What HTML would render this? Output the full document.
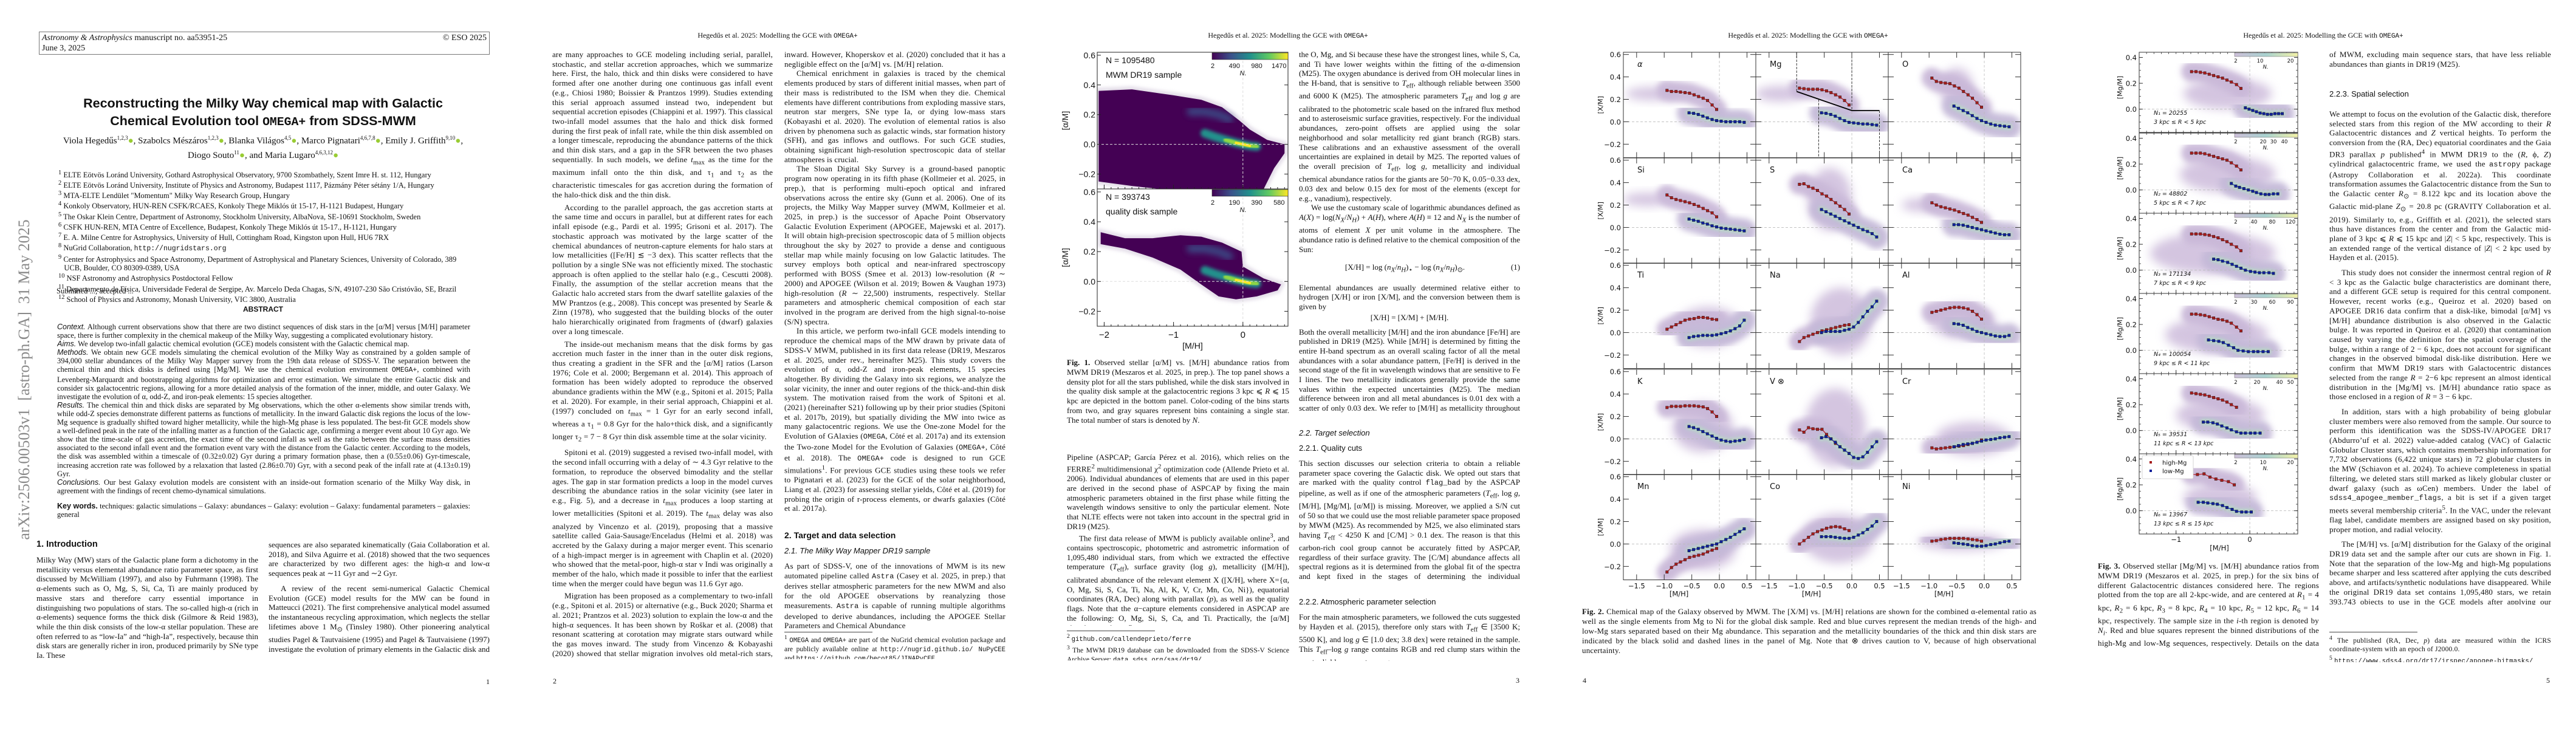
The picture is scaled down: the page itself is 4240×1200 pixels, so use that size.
<!DOCTYPE html>
<html><head><meta charset="utf-8">
<style>
html,body{margin:0;padding:0;background:#fff;}
#root{position:relative;width:4240px;height:1200px;overflow:hidden;background:#fff;font-family:"Liberation Serif",serif;color:#111;}
.col{position:absolute;font-size:13px;line-height:15.7px;text-align:justify;overflow:hidden;hyphens:auto;}
.col p{margin:0;text-indent:0;}
.col p.i{text-indent:20px;}
.hdr{position:absolute;font-size:12px;width:848px;text-align:center;}
.mono{font-family:"Liberation Mono",monospace;font-size:0.92em;}
.pn{position:absolute;font-size:12px;}
.sans{font-family:"Liberation Sans",sans-serif;}
.sh{position:absolute;font-family:"Liberation Sans",sans-serif;}
#figs{position:absolute;left:0;top:0;}
</style></head>
<body>
<div id="root">

<!-- PAGE 1 -->
<div style="position:absolute;left:64px;top:52px;width:740px;height:36px;border:1px solid #777;font-size:14px;line-height:17px;">
 <div style="position:absolute;left:4px;top:1px;"><i>Astronomy &amp; Astrophysics</i> manuscript no. aa53951-25<br>June 3, 2025</div>
 <div style="position:absolute;right:4px;top:1px;">© ESO 2025</div>
</div>
<div class="sans" style="position:absolute;left:60px;width:746px;top:156px;text-align:center;font-size:21.5px;line-height:28.5px;font-weight:bold;">Reconstructing the Milky Way chemical map with Galactic<br>Chemical Evolution tool <span class="mono">OMEGA+</span> from SDSS-MWM</div>
<div style="position:absolute;left:60px;width:746px;top:218px;text-align:center;font-size:15px;line-height:19px;">Viola Hegedűs<sup style="font-size:9px">1,2,3</sup><span style="color:#9c3">●</span>, Szabolcs Mészáros<sup style="font-size:9px">1,2,3</sup><span style="color:#9c3">●</span>, Blanka Világos<sup style="font-size:9px">4,5</sup><span style="color:#9c3">●</span>, Marco Pignatari<sup style="font-size:9px">4,6,7,8</sup><span style="color:#9c3">●</span>, Emily J. Griffith<sup style="font-size:9px">9,10</sup><span style="color:#9c3">●</span>,<br>Diogo Souto<sup style="font-size:9px">11</sup><span style="color:#9c3">●</span>, and Maria Lugaro<sup style="font-size:9px">4,6,3,12</sup><span style="color:#9c3">●</span></div>
<div style="position:absolute;left:96px;width:700px;top:278px;font-size:12.5px;line-height:14px;">
<sup>1</sup> ELTE Eötvös Loránd University, Gothard Astrophysical Observatory, 9700 Szombathely, Szent Imre H. st. 112, Hungary<br>
<sup>2</sup> ELTE Eötvös Loránd University, Institute of Physics and Astronomy, Budapest 1117, Pázmány Péter sétány 1/A, Hungary<br>
<sup>3</sup> MTA-ELTE Lendület "Momentum" Milky Way Research Group, Hungary<br>
<sup>4</sup> Konkoly Observatory, HUN-REN CSFK/RCAES, Konkoly Thege Miklós út 15-17, H-1121 Budapest, Hungary<br>
<sup>5</sup> The Oskar Klein Centre, Department of Astronomy, Stockholm University, AlbaNova, SE-10691 Stockholm, Sweden<br>
<sup>6</sup> CSFK HUN-REN, MTA Centre of Excellence, Budapest, Konkoly Thege Miklós út 15-17., H-1121, Hungary<br>
<sup>7</sup> E. A. Milne Centre for Astrophysics, University of Hull, Cottingham Road, Kingston upon Hull, HU6 7RX<br>
<sup>8</sup> NuGrid Collaboration, <span class="mono">http://nugridstars.org</span><br>
<sup>9</sup> Center for Astrophysics and Space Astronomy, Department of Astrophysical and Planetary Sciences, University of Colorado, 389<br>&nbsp;&nbsp;&nbsp;UCB, Boulder, CO 80309-0389, USA<br>
<sup>10</sup> NSF Astronomy and Astrophysics Postdoctoral Fellow<br>
<sup>11</sup> Departamento de Física, Universidade Federal de Sergipe, Av. Marcelo Deda Chagas, S/N, 49107-230 São Cristóvão, SE, Brazil<br>
<sup>12</sup> School of Physics and Astronomy, Monash University, VIC 3800, Australia</div>
<div style="position:absolute;left:93px;top:472px;font-size:12.5px;">Submitted ...; accepted ...</div>
<div class="sans" style="position:absolute;left:60px;width:746px;top:502px;text-align:center;font-size:12px;font-weight:bold;">ABSTRACT</div>
<div class="col" style="left:94px;width:680px;top:531px;height:290px;font-size:12.5px;line-height:14.1px;">
<p><i class="sans">Context.</i> Although current observations show that there are two distinct sequences of disk stars in the [α/M] versus [M/H] parameter space, there is further complexity in the chemical makeup of the Milky Way, suggesting a complicated evolutionary history.</p>
<p><i class="sans">Aims.</i> We develop two-infall galactic chemical evolution (GCE) models consistent with the Galactic chemical map.</p>
<p><i class="sans">Methods.</i> We obtain new GCE models simulating the chemical evolution of the Milky Way as constrained by a golden sample of 394,000 stellar abundances of the Milky Way Mapper survey from the 19th data release of SDSS-V. The separation between the chemical thin and thick disks is defined using [Mg/M]. We use the chemical evolution environment <span class="mono">OMEGA+</span>, combined with Levenberg-Marquardt and bootstrapping algorithms for optimization and error estimation. We simulate the entire Galactic disk and consider six galactocentric regions, allowing for a more detailed analysis of the formation of the inner, middle, and outer Galaxy. We investigate the evolution of α, odd-Z, and iron-peak elements: 15 species altogether.</p>
<p><i class="sans">Results.</i> The chemical thin and thick disks are separated by Mg observations, which the other α-elements show similar trends with, while odd-Z species demonstrate different patterns as functions of metallicity. In the inward Galactic disk regions the locus of the low-Mg sequence is gradually shifted toward higher metallicity, while the high-Mg phase is less populated. The best-fit GCE models show a well-defined peak in the rate of the infalling matter as a function of the Galactic age, confirming a merger event about 10 Gyr ago. We show that the time-scale of gas accretion, the exact time of the second infall as well as the ratio between the surface mass densities associated to the second infall event and the formation event vary with the distance from the Galactic center. According to the models, the disk was assembled within a timescale of (0.32±0.02) Gyr during a primary formation phase, then a (0.55±0.06) Gyr-timescale, increasing accretion rate was followed by a relaxation that lasted (2.86±0.70) Gyr, with a second peak of the infall rate at (4.13±0.19) Gyr.</p>
<p><i class="sans">Conclusions.</i> Our best Galaxy evolution models are consistent with an inside-out formation scenario of the Milky Way disk, in agreement with the findings of recent chemo-dynamical simulations.</p>
</div>
<div class="col" style="left:94px;width:680px;top:826px;height:30px;font-size:12.5px;line-height:14.1px;"><b class="sans">Key words.</b> techniques: galactic simulations – Galaxy: abundances – Galaxy: evolution – Galaxy: fundamental parameters – galaxies: general</div>
<div class="sh" style="left:60px;top:888px;font-size:14.5px;font-weight:bold;">1. Introduction</div>
<div class="col" style="left:60px;width:365px;top:914px;height:175px;">
<p>Milky Way (MW) stars of the Galactic plane form a dichotomy in the metallicity versus elemental abundance ratio parameter space, as first discussed by McWilliam (1997), and also by Fuhrmann (1998). The α-elements such as O, Mg, S, Si, Ca, Ti are mainly produced by massive stars and therefore carry essential importance in distinguishing two populations of stars. The so-called high-α (rich in α-elements) sequence forms the thick disk (Gilmore &amp; Reid 1983), while the thin disk consists of the low-α stellar population. These are often referred to as “low-Ia” and “high-Ia”, respectively, because thin disk stars are generally richer in iron, produced primarily by SNe type Ia. These</p></div>
<div class="col" style="left:442px;width:364px;top:889px;height:190px;">
<p>sequences are also separated kinematically (Gaia Collaboration et al. 2018), and Silva Aguirre et al. (2018) showed that the two sequences are characterized by two different ages: the high-α and low-α sequences peak at ∼11 Gyr and ∼2 Gyr.</p>
<p class="i" style="margin-top:9px">A review of the recent semi-numerical Galactic Chemical Evolution (GCE) model results for the MW can be found in Matteucci (2021). The first comprehensive analytical model assumed the instantaneous recycling approximation, which neglects the stellar lifetimes above 1 M<sub>⊙</sub> (Tinsley 1980). Other pioneering analytical studies Pagel &amp; Tautvaisiene (1995) and Pagel &amp; Tautvaisiene (1997) investigate the evolution of primary elements in the Galactic disk and in the solar neighborhood. There</p></div>
<div class="pn" style="left:800px;top:1115px;">1</div>
<div style="position:absolute;left:40px;top:625px;width:580px;height:30px;margin-left:-290px;margin-top:-15px;transform:rotate(-90deg);font-size:26px;line-height:30px;color:#8a8a8a;text-align:center;white-space:nowrap;">arXiv:2506.00503v1 &nbsp;[astro-ph.GA] &nbsp;31 May 2025</div>

<!-- PAGE 2 -->
<div class="hdr" style="left:856px;top:51px;">Hegedűs et al. 2025: Modelling the GCE with <span class="mono">OMEGA+</span></div>
<div class="col" style="left:909px;width:363px;top:82px;height:1003px;letter-spacing:0.15px;">
<p>are many approaches to GCE modeling including serial, parallel, stochastic, and stellar accretion approaches, which we summarize here. First, the halo, thick and thin disks were considered to have formed after one another during one continuous gas infall event (e.g., Chiosi 1980; Boissier &amp; Prantzos 1999). Studies extending this serial approach assumed instead two, independent but sequential accretion episodes (Chiappini et al. 1997). This classical two-infall model assumes that the halo and thick disk formed during the first peak of infall rate, while the thin disk assembled on a longer timescale, reproducing the abundance patterns of the thick and thin disk stars, and a gap in the SFR between the two phases sequentially. In such models, we define <i>t</i><sub>max</sub> as the time for the maximum infall onto the thin disk, and τ<sub>1</sub> and τ<sub>2</sub> as the characteristic timescales for gas accretion during the formation of the halo-thick disk and the thin disk.</p>
<p class="i" style="margin-top:5px">According to the parallel approach, the gas accretion starts at the same time and occurs in parallel, but at different rates for each infall episode (e.g., Pardi et al. 1995; Grisoni et al. 2017). The stochastic approach was motivated by the large scatter of the chemical abundances of neutron-capture elements for halo stars at low metallicities ([Fe/H] ≲ −3 dex). This scatter reflects that the pollution by a single SNe was not efficiently mixed. The stochastic approach is often applied to the stellar halo (e.g., Cescutti 2008). Finally, the assumption of the stellar accretion means that the Galactic halo accreted stars from the dwarf satellite galaxies of the MW Prantzos (e.g., 2008). This concept was presented by Searle &amp; Zinn (1978), who suggested that the building blocks of the outer halo hierarchically originated from fragments of (dwarf) galaxies over a long timescale.</p>
<p class="i" style="margin-top:5px">The inside-out mechanism means that the disk forms by gas accretion much faster in the inner than in the outer disk regions, thus creating a gradient in the SFR and the [α/M] ratios (Larson 1976; Cole et al. 2000; Bergemann et al. 2014). This approach of formation has been widely adopted to reproduce the observed abundance gradients within the MW (e.g., Spitoni et al. 2015; Palla et al. 2020). For example, in their serial approach, Chiappini et al. (1997) concluded on <i>t</i><sub>max</sub> = 1 Gyr for an early second infall, whereas a τ<sub>1</sub> = 0.8 Gyr for the halo+thick disk, and a significantly longer τ<sub>2</sub> = 7 − 8 Gyr thin disk assemble time at the solar vicinity.</p>
<p class="i" style="margin-top:5px">Spitoni et al. (2019) suggested a revised two-infall model, with the second infall occurring with a delay of ∼ 4.3 Gyr relative to the formation, to reproduce the observed bimodality and the stellar ages. The gap in star formation predicts a loop in the model curves describing the abundance ratios in the solar vicinity (see later in e.g., Fig. 5), and a decrease in <i>t</i><sub>max</sub> produces a loop starting at lower metallicities (Spitoni et al. 2019). The <i>t</i><sub>max</sub> delay was also analyzed by Vincenzo et al. (2019), proposing that a massive satellite called Gaia-Sausage/Enceladus (Helmi et al. 2018) was accreted by the Galaxy during a major merger event. This scenario of a high-impact merger is in agreement with Chaplin et al. (2020) who showed that the metal-poor, high-α star ν Indi was originally a member of the halo, which made it possible to infer that the earliest time when the merger could have begun was 11.6 Gyr ago.</p>
<p class="i" style="margin-top:5px">Migration has been proposed as a complementary to two-infall (e.g., Spitoni et al. 2015) or alternative (e.g., Buck 2020; Sharma et al. 2021; Prantzos et al. 2023) solution to explain the low-α and the high-α sequences. It has been shown by Roškar et al. (2008) that resonant scattering at corotation may migrate stars outward while the gas moves inward. The study from Vincenzo &amp; Kobayashi (2020) showed that stellar migration involves old metal-rich stars, and occurs more outward than</p></div>
<div class="col" style="left:1291px;width:364px;top:82px;height:770px;letter-spacing:0.15px;">
<p>inward. However, Khoperskov et al. (2020) concluded that it has a negligible effect on the [α/M] vs. [M/H] relation.</p>
<p class="i">Chemical enrichment in galaxies is traced by the chemical elements produced by stars of different initial masses, when part of their mass is redistributed to the ISM when they die. Chemical elements have different contributions from exploding massive stars, neutron star mergers, SNe type Ia, or dying low-mass stars (Kobayashi et al. 2020). The evolution of elemental ratios is also driven by phenomena such as galactic winds, star formation history (SFH), and gas inflows and outflows. For such GCE studies, obtaining significant high-resolution spectroscopic data of stellar atmospheres is crucial.</p>
<p class="i">The Sloan Digital Sky Survey is a ground-based panoptic program now operating in its fifth phase (Kollmeier et al. 2025, in prep.), that is performing multi-epoch optical and infrared observations across the entire sky (Gunn et al. 2006). One of its projects, the Milky Way Mapper survey (MWM, Kollmeier et al. 2025, in prep.) is the successor of Apache Point Observatory Galactic Evolution Experiment (APOGEE, Majewski et al. 2017). It will obtain high-precision spectroscopic data of 5 million objects throughout the sky by 2027 to provide a dense and contiguous stellar map while mainly focusing on low Galactic latitudes. The survey employs both optical and near-infrared spectroscopy performed with BOSS (Smee et al. 2013) low-resolution (<i>R</i> ∼ 2000) and APOGEE (Wilson et al. 2019; Bowen &amp; Vaughan 1973) high-resolution (<i>R</i> ∼ 22,500) instruments, respectively. Stellar parameters and atmospheric chemical composition of each star involved in the program are derived from the high signal-to-noise (S/N) spectra.</p>
<p class="i">In this article, we perform two-infall GCE models intending to reproduce the chemical maps of the MW drawn by private data of SDSS-V MWM, published in its first data release (DR19, Meszaros et al. 2025, under rev., hereinafter M25). This study covers the evolution of α, odd-Z and iron-peak elements, 15 species altogether. By dividing the Galaxy into six regions, we analyze the solar vicinity, the inner and outer regions of the thick-and-thin disk system. The motivation raised from the work of Spitoni et al. (2021) (hereinafter S21) following up by their prior studies (Spitoni et al. 2017b, 2019), but spatially dividing the MW into twice as many galactocentric regions. We use the One-zone Model for the Evolution of GAlaxies (<span class="mono">OMEGA</span>, Côté et al. 2017a) and its extension the Two-zone Model for the Evolution of Galaxies (<span class="mono">OMEGA+</span>, Côté et al. 2018). The <span class="mono">OMEGA+</span> code is designed to run GCE simulations<sup>1</sup>. For previous GCE studies using these tools we refer to Pignatari et al. (2023) for the GCE of the solar neighborhood, Liang et al. (2023) for assessing stellar yields, Côté et al. (2019) for probing the origin of r-process elements, or dwarfs galaxies (Côté et al. 2017a).</p></div>
<div class="sh" style="left:1291px;top:873px;font-size:14px;font-weight:bold;">2. Target and data selection</div>
<div class="sh" style="left:1291px;top:899px;font-size:13px;font-style:italic;">2.1. The Milky Way Mapper DR19 sample</div>
<div class="col" style="left:1291px;width:364px;top:924px;height:110px;letter-spacing:0.15px;">
<p>As part of SDSS-V, one of the innovations of MWM is its new automated pipeline called <span class="mono">Astra</span> (Casey et al. 2025, in prep.) that derives stellar atmospheric parameters for the new MWM and also for the old APOGEE observations by reanalyzing those measurements. <span class="mono">Astra</span> is capable of running multiple algorithms developed to derive abundances, including the APOGEE Stellar Parameters and Chemical Abundance</p></div>
<div style="position:absolute;left:1291px;top:1040px;width:145px;border-top:1px solid #444;"></div>
<div class="col" style="left:1291px;width:364px;top:1043px;height:42px;font-size:11.5px;line-height:14px;"><sup>1</sup> <span class="mono">OMEGA</span> and <span class="mono">OMEGA+</span> are part of the NuGrid chemical evolution package and are publicly available online at <span class="mono">http://nugrid.github.io/ NuPyCEE</span> and <span class="mono">https://github.com/becot85/JINAPyCEE</span>.</div>
<div class="pn" style="left:910px;top:1114px;">2</div>

<!-- PAGE 3 -->
<div class="hdr" style="left:1696px;top:51px;">Hegedűs et al. 2025: Modelling the GCE with <span class="mono">OMEGA+</span></div>
<div class="col" style="left:1756px;width:366px;top:589px;height:125px;line-height:15.8px;">
<p><b>Fig. 1.</b> Observed stellar [α/M] vs. [M/H] abundance ratios from MWM DR19 (Meszaros et al. 2025, in prep.). The top panel shows a density plot for all the stars published, while the disk stars involved in the quality disk sample at the galactocentric regions 3 kpc ⩽ <i>R</i> ⩽ 15 kpc are depicted in the bottom panel. Color-coding of the bins starts from two, and gray squares represent bins containing a single star. The total number of stars is denoted by <i>N</i>.</p></div>
<div class="col" style="left:1756px;width:366px;top:745px;height:285px;line-height:15.8px;">
<p>Pipeline (ASPCAP; García Pérez et al. 2016), which relies on the FERRE<sup>2</sup> multidimensional χ<sup>2</sup> optimization code (Allende Prieto et al. 2006). Individual abundances of elements that are used in this paper are derived in the second phase of ASPCAP by fixing the main atmospheric parameters obtained in the first phase while fitting the wavelength windows sensitive to only the particular element. Note that NLTE effects were not taken into account in the spectral grid in DR19 (M25).</p>
<p class="i">The first data release of MWM is publicly available online<sup>3</sup>, and contains spectroscopic, photometric and astrometric information of 1,095,480 individual stars, from which we extracted the effective temperature (<i>T</i><sub>eff</sub>), surface gravity (log <i>g</i>), metallicity ([M/H]), calibrated abundance of the relevant element X ([X/H], where X={α, O, Mg, Si, S, Ca, Ti, Na, Al, K, V, Cr, Mn, Co, Ni}), equatorial coordinates (RA, Dec) along with parallax (<i>p</i>), as well as the quality flags. Note that the α−capture elements considered in ASPCAP are the following: O, Mg, Si, S, Ca, and Ti. Practically, the [α/M] abundance value reflects</p></div>
<div style="position:absolute;left:1756px;top:1038px;width:145px;border-top:1px solid #444;"></div>
<div class="col" style="left:1756px;width:366px;top:1041px;height:46px;font-size:11.5px;line-height:14.5px;"><sup>2</sup> <span class="mono">github.com/callendeprieto/ferre</span><br><sup>3</sup> The MWM DR19 database can be downloaded from the SDSS-V Science Archive Server: <span class="mono">data.sdss.org/sas/dr19/</span>.</div>
<div class="col" style="left:2138px;width:364px;top:82px;height:597px;">
<p>the O, Mg, and Si because these have the strongest lines, while S, Ca, and Ti have lower weights within the fitting of the α-dimension (M25). The oxygen abundance is derived from OH molecular lines in the H-band, that is sensitive to <i>T</i><sub>eff</sub>, although reliable between 3500 and 6000 K (M25). The atmospheric parameters <i>T</i><sub>eff</sub> and log <i>g</i> are calibrated to the photometric scale based on the infrared flux method and to asteroseismic surface gravities, respectively. For the individual abundances, zero-point offsets are applied using the solar neighborhood and solar metallicity red giant branch (RGB) stars. These calibrations and an exhaustive assessment of the overall uncertainties are explained in detail by M25. The reported values of the overall precision of <i>T</i><sub>eff</sub>, log <i>g</i>, metallicity and individual chemical abundance ratios for the giants are 50−70 K, 0.05−0.33 dex, 0.03 dex and below 0.15 dex for most of the elements (except for e.g., vanadium), respectively.</p>
<p class="i">We use the customary scale of logarithmic abundances defined as <i>A</i>(<i>X</i>) = log(<i>N<sub>X</sub></i>/<i>N<sub>H</sub></i>) + <i>A</i>(<i>H</i>), where <i>A</i>(<i>H</i>) ≡ 12 and <i>N<sub>X</sub></i> is the number of atoms of element <i>X</i> per unit volume in the atmosphere. The abundance ratio is defined relative to the chemical composition of the Sun:</p>
<p style="text-align:center;margin:14px 0 12px 0;">[X/H] = log (<i>n<sub>X</sub></i>/<i>n<sub>H</sub></i>)<sub>⋆</sub> − log (<i>n<sub>X</sub></i>/<i>n<sub>H</sub></i>)<sub>⊙</sub>. <span style="float:right">(1)</span></p>
<p>Elemental abundances are usually determined relative either to hydrogen [X/H] or iron [X/M], and the conversion between them is given by</p>
<p style="text-align:center;margin:2px 0 8px 0;">[X/H] = [X/M] + [M/H].</p>
<p>Both the overall metallicity [M/H] and the iron abundance [Fe/H] are published in DR19 (M25). While [M/H] is determined by fitting the entire H-band spectrum as an overall scaling factor of all the metal abundances with a solar abundance pattern, [Fe/H] is derived in the second stage of the fit in wavelength windows that are sensitive to Fe I lines. The two metallicity indicators generally provide the same values within the expected uncertainties (M25). The median difference between iron and all metal abundances is 0.01 dex with a scatter of only 0.03 dex. We refer to [M/H] as metallicity throughout this study.</p></div>
<div class="sh" style="left:2138px;top:705px;font-size:13px;font-style:italic;">2.2. Target selection</div>
<div class="sh" style="left:2138px;top:730px;font-size:13px;">2.2.1. Quality cuts</div>
<div class="col" style="left:2138px;width:364px;top:755px;height:205px;">
<p>This section discusses our selection criteria to obtain a reliable parameter space covering the Galactic disk. We opted out stars that are marked with the quality control <span class="mono">flag_bad</span> by the ASPCAP pipeline, as well as if one of the atmospheric parameters (<i>T</i><sub>eff</sub>, log <i>g</i>, [M/H], [Mg/M], [α/M]) is missing. Moreover, we applied a S/N cut of 50 so that we could use the most reliable parameter space proposed by MWM (M25). As recommended by M25, we also eliminated stars having <i>T</i><sub>eff</sub> &lt; 4250 K and [C/M] &gt; 0.1 dex. The reason is that this carbon-rich cool group cannot be accurately fitted by ASPCAP, regardless of their surface gravity. The [C/M] abundance affects all spectral regions as it is determined from the global fit of the spectra and kept fixed in the stages of determining the individual abundances.</p></div>
<div class="sh" style="left:2138px;top:983px;font-size:13px;">2.2.2. Atmospheric parameter selection</div>
<div class="col" style="left:2138px;width:364px;top:1008px;height:80px;">
<p>For the main atmospheric parameters, we followed the cuts suggested by Hayden et al. (2015), therefore only stars with <i>T</i><sub>eff</sub> ∈ [3500 K; 5500 K], and log <i>g</i> ∈ [1.0 dex; 3.8 dex] were retained in the sample. This <i>T</i><sub>eff</sub>–log <i>g</i> range contains RGB and red clump stars within the most reliable parameter range</p></div>
<div class="pn" style="left:2495px;top:1113px;">3</div>

<!-- PAGE 4 -->
<div class="hdr" style="left:2552px;top:51px;">Hegedűs et al. 2025: Modelling the GCE with <span class="mono">OMEGA+</span></div>
<div class="col" style="left:2604px;width:748px;top:999px;height:82px;line-height:16px;letter-spacing:0.2px;">
<p><b>Fig. 2.</b> Chemical map of the Galaxy observed by MWM. The [X/M] vs. [M/H] relations are shown for the combined α-elemental ratio as well as the single elements from Mg to Ni for the global disk sample. Red and blue curves represent the median trends of the high- and low-Mg stars separated based on their Mg abundance. This separation and the metallicity boundaries of the thick and thin disk stars are indicated by the black solid and dashed lines in the panel of Mg. Note that ⊗ drives caution to V, because of high observational uncertainty.</p></div>
<div class="pn" style="left:2605px;top:1113px;">4</div>

<!-- PAGE 5 -->
<div class="hdr" style="left:3400px;top:51px;">Hegedűs et al. 2025: Modelling the GCE with <span class="mono">OMEGA+</span></div>
<div class="col" style="left:3453px;width:364px;top:924px;height:145px;line-height:15.8px;letter-spacing:0.2px;">
<p><b>Fig. 3.</b> Observed stellar [Mg/M] vs. [M/H] abundance ratios from MWM DR19 (Meszaros et al. 2025, in prep.) for the six bins of different Galactocentric distances considered here. The regions plotted from the top are all 2-kpc-wide, and are centered at <i>R</i><sub>1</sub> = 4 kpc, <i>R</i><sub>2</sub> = 6 kpc, <i>R</i><sub>3</sub> = 8 kpc, <i>R</i><sub>4</sub> = 10 kpc, <i>R</i><sub>5</sub> = 12 kpc, <i>R</i><sub>6</sub> = 14 kpc, respectively. The sample size in the <i>i</i>-th region is denoted by <i>N<sub>i</sub></i>. Red and blue squares represent the binned distributions of the high-Mg and low-Mg sequences, respectively. Details on the data selection are reported in the text.</p></div>
<div class="col" style="left:3834px;width:365px;top:82px;height:34px;letter-spacing:0.2px;">
<p>of MWM, excluding main sequence stars, that have less reliable abundances than giants in DR19 (M25).</p></div>
<div class="sh" style="left:3834px;top:147px;font-size:13px;">2.2.3. Spatial selection</div>
<div class="col" style="left:3834px;width:365px;top:180px;height:815px;letter-spacing:0.2px;">
<p>We attempt to focus on the evolution of the Galactic disk, therefore selected stars from this region of the MW according to their <i>R</i> Galactocentric distances and <i>Z</i> vertical heights. To perform the conversion from the (RA, Dec) equatorial coordinates and the Gaia DR3 parallax <i>p</i> published<sup>4</sup> in MWM DR19 to the (<i>R</i>, ϕ, <i>Z</i>) cylindrical galactocentric frame, we used the <span class="mono">astropy</span> package (Astropy Collaboration et al. 2022a). This coordinate transformation assumes the Galactocentric distance from the Sun to the Galactic center <i>R</i><sub>⊙</sub> = 8.122 kpc and its location above the Galactic mid-plane <i>Z</i><sub>⊙</sub> = 20.8 pc (GRAVITY Collaboration et al. 2019). Similarly to, e.g., Griffith et al. (2021), the selected stars thus have distances from the center and from the Galactic mid-plane of 3 kpc ⩽ <i>R</i> ⩽ 15 kpc and |<i>Z</i>| &lt; 5 kpc, respectively. This is an extended range of the vertical distance of |<i>Z</i>| &lt; 2 kpc used by Hayden et al. (2015).</p>
<p class="i" style="margin-top:9px">This study does not consider the innermost central region of <i>R</i> &lt; 3 kpc as the Galactic bulge characteristics are dominant there, and a different GCE setup is required for this central component. However, recent works (e.g., Queiroz et al. 2020) based on APOGEE DR16 data confirm that a disk-like, bimodal [α/M] vs [M/H] abundance distribution is also observed in the Galactic bulge. It was reported in Queiroz et al. (2020) that contamination caused by varying the definition for the spatial coverage of the bulge, within a range of 2 − 6 kpc, does not account for significant changes in the observed bimodal disk-like distribution. Here we confirm that MWM DR19 stars with Galactocentric distances selected from the range <i>R</i> = 2−6 kpc represent an almost identical distribution in the [Mg/M] vs. [M/H] abundance ratio space as those enclosed in a region of <i>R</i> = 3 − 6 kpc.</p>
<p class="i" style="margin-top:9px">In addition, stars with a high probability of being globular cluster members were also removed from the sample. Our source to perform this identification was the SDSS-IV/APOGEE DR17 (Abdurro’uf et al. 2022) value-added catalog (VAC) of Galactic Globular Cluster stars, which contains membership information for 7,732 observations (6,422 unique stars) in 72 globular clusters in the MW (Schiavon et al. 2024). To achieve completeness in spatial filtering, we deleted stars still marked as likely globular cluster or dwarf galaxy (such as ωCen) members. Under the label of <span class="mono">sdss4_apogee_member_flags</span>, a bit is set if a given target meets several membership criteria<sup>5</sup>. In the VAC, under the relevant flag label, candidate members are assigned based on sky position, proper motion, and radial velocity.</p>
<p class="i" style="margin-top:9px">The [M/H] vs. [α/M] distribution for the Galaxy of the original DR19 data set and the sample after our cuts are shown in Fig. 1. Note that the separation of the low-Mg and high-Mg populations became sharper and less scattered after applying the cuts described above, and artifacts/synthetic nodulations have disappeared. While the original DR19 data set contains 1,095,480 stars, we retain 393,743 objects to use in the GCE models after applying our selection.</p></div>
<div style="position:absolute;left:3834px;top:1040px;width:145px;border-top:1px solid #444;"></div>
<div class="col" style="left:3834px;width:365px;top:1044px;height:46px;font-size:11.5px;line-height:14.5px;letter-spacing:0.2px;"><sup>4</sup> The published (RA, Dec, <i>p</i>) data are measured within the ICRS coordinate-system with an epoch of J2000.0.<br><sup>5</sup> <span class="mono">https://www.sdss4.org/dr17/irspec/apogee-bitmasks/</span></div>
<div class="pn" style="left:4191px;top:1113px;">5</div>

<svg id="figs" width="4240" height="1200" viewBox="0 0 4240 1200" xmlns="http://www.w3.org/2000/svg">
 <defs>
  <filter id="blur8" x="-50%" y="-50%" width="200%" height="200%"><feGaussianBlur stdDeviation="8"/></filter>
  <filter id="blur5" x="-50%" y="-50%" width="200%" height="200%"><feGaussianBlur stdDeviation="5"/></filter>
  <filter id="blur3" x="-50%" y="-50%" width="200%" height="200%"><feGaussianBlur stdDeviation="3"/></filter>
  <filter id="blur1" x="-20%" y="-20%" width="140%" height="140%"><feGaussianBlur stdDeviation="1.2"/></filter>
  <linearGradient id="viridis" x1="0" x2="1" y1="0" y2="0">
   <stop offset="0" stop-color="#440154"/><stop offset="0.25" stop-color="#3b528b"/><stop offset="0.5" stop-color="#21918c"/><stop offset="0.75" stop-color="#5ec962"/><stop offset="1" stop-color="#fde725"/>
  </linearGradient>
  <linearGradient id="viridisPale" x1="0" x2="1" y1="0" y2="0">
   <stop offset="0" stop-color="#cdbfd9"/><stop offset="0.5" stop-color="#a9d3d0"/><stop offset="1" stop-color="#f3f2a8"/>
  </linearGradient>
 </defs>
</svg>
</div>

<script>
// ================= FIG 1 DATA =================
const fig1XTicks=[-2,-1,0];
const fig1XTickLabels=['−2','−1','0'];
const fig1YTicks=[0.6,0.4,0.2,0.0,-0.2];
const fig1YTickLabels=['0.6','0.4','0.2','0.0','−0.2'];
const fig1TopOutlineX=[-2.08,-1.6,-1.0,-0.6,-0.3,-0.05,0.1,0.35,0.6,0.6,0.45,0.3,-0.6,-1.2,-1.6,-2.08];
const fig1TopOutlineY=[0.36,0.37,0.33,0.30,0.25,0.16,0.10,0.03,0.0,-0.06,-0.16,-0.30,-0.30,-0.30,-0.28,-0.25];
const fig1BotOutlineX=[-2.05,-1.7,-1.3,-0.9,-0.6,-0.3,-0.02,0.0,0.3,0.55,0.5,0.2,-0.1,-0.35,-0.6,-0.9,-1.3,-1.7,-2.05];
const fig1BotOutlineY=[0.33,0.29,0.29,0.31,0.30,0.26,0.20,0.10,0.02,-0.02,-0.06,-0.10,-0.12,-0.10,-0.02,0.08,0.16,0.22,0.25];
const fig1BandX=[-0.55,-0.4,-0.25,-0.1,0.0,0.1,0.2];
const fig1BandY=[0.075,0.05,0.03,0.01,0.0,-0.01,-0.015];
const fig1BlobX=[-0.75,-0.55,-0.35,-0.2];
const fig1BlobY=[0.22,0.22,0.2,0.17];
const fig1TopCbarLabels=['2','490','980','1470'];
const fig1BotCbarLabels=['2','190','390','580'];

// ================= FIG 2 DATA =================
const fig2Elements=['α','Mg','O','Si','S','Ca','Ti','Na','Al','K','V ⊗','Cr','Mn','Co','Ni'];
const fig2RedX=[-0.95,-0.868,-0.786,-0.705,-0.623,-0.541,-0.459,-0.377,-0.295,-0.214,-0.132,-0.05];
const fig2BlueX=[-0.55,-0.467,-0.383,-0.30,-0.217,-0.133,-0.05,0.033,0.117,0.20,0.283,0.367,0.45];
const redAlpha=[0.28,0.27,0.27,0.265,0.26,0.255,0.24,0.225,0.21,0.19,0.15,0.11];
const blueAlpha=[0.08,0.075,0.065,0.05,0.035,0.02,0.01,0.005,0.0,0.0,0.0,0.0,-0.005];
const redMg=[0.30,0.295,0.29,0.29,0.29,0.285,0.275,0.26,0.24,0.22,0.19,0.15];
const blueMg=[0.08,0.075,0.065,0.05,0.03,0.01,-0.005,-0.01,-0.015,-0.02,-0.02,-0.025,-0.03];
const redO=[0.39,0.36,0.35,0.345,0.34,0.32,0.30,0.27,0.24,0.21,0.17,0.13];
const blueO=[0.14,0.12,0.10,0.08,0.055,0.03,0.01,-0.005,-0.02,-0.03,-0.035,-0.04,-0.045];
const redSi=[0.29,0.265,0.25,0.24,0.23,0.22,0.205,0.19,0.17,0.15,0.13,0.095];
const blueSi=[0.075,0.065,0.055,0.04,0.03,0.015,0.005,-0.005,-0.01,-0.015,-0.02,-0.025,-0.03];
const redS=[0.385,0.39,0.365,0.35,0.33,0.30,0.28,0.25,0.22,0.19,0.16,0.12];
const blueS=[0.16,0.14,0.12,0.10,0.08,0.06,0.04,0.02,0.0,-0.02,-0.035,-0.055,-0.085];
const redCa=[0.22,0.20,0.185,0.175,0.165,0.155,0.14,0.125,0.11,0.09,0.07,0.045];
const blueCa=[0.025,0.025,0.02,0.01,0.0,-0.01,-0.02,-0.03,-0.04,-0.05,-0.06,-0.065,-0.065];
const redTi=[0.03,0.05,0.07,0.09,0.11,0.12,0.125,0.135,0.135,0.13,0.12,0.115];
const blueTi=[-0.045,-0.035,-0.03,-0.025,-0.025,-0.025,-0.02,-0.01,0.0,0.015,0.035,0.06,0.11];
const redNa=[-0.08,-0.045,-0.03,-0.015,0.0,0.015,0.025,0.035,0.045,0.055,0.065,0.07];
const blueNa=[0.0,0.01,0.01,0.01,0.01,0.02,0.03,0.05,0.09,0.14,0.19,0.23,0.28];
const redAl=[0.18,0.19,0.20,0.21,0.22,0.225,0.225,0.22,0.21,0.19,0.16,0.12];
const blueAl=[0.08,0.075,0.065,0.045,0.03,0.01,0.0,-0.01,-0.02,-0.03,-0.035,-0.035,-0.025];
const redK=[0.28,0.29,0.29,0.29,0.295,0.295,0.295,0.29,0.285,0.27,0.24,0.20];
const blueK=[0.11,0.10,0.085,0.065,0.045,0.025,0.005,-0.01,-0.02,-0.025,-0.02,-0.015,-0.005];
const redV=[0.08,0.06,0.10,0.09,0.085,0.085,0.04,0.0,-0.04,-0.07,-0.10,-0.13];
const blueV=[0.01,0.02,0.0,-0.03,-0.07,-0.10,-0.13,-0.165,-0.175,-0.16,-0.12,-0.07,-0.025];
const redCr=[-0.08,-0.09,-0.085,-0.08,-0.075,-0.07,-0.065,-0.06,-0.05,-0.04,-0.03,-0.01];
const blueCr=[-0.07,-0.06,-0.05,-0.045,-0.04,-0.03,-0.02,-0.01,-0.005,0.0,0.01,0.015,0.02];
const redMn=[-0.25,-0.21,-0.18,-0.16,-0.14,-0.12,-0.11,-0.10,-0.09,-0.07,-0.055,-0.04];
const blueMn=[-0.06,-0.05,-0.04,-0.03,-0.02,-0.01,0.0,0.02,0.04,0.06,0.085,0.11,0.135];
const redCo=[0.0,0.03,0.06,0.09,0.11,0.125,0.14,0.15,0.155,0.15,0.135,0.12];
const blueCo=[0.065,0.065,0.065,0.06,0.055,0.05,0.05,0.06,0.08,0.10,0.13,0.16,0.20];
const redNi=[0.025,0.03,0.04,0.045,0.05,0.05,0.05,0.05,0.045,0.04,0.035,0.025];
const blueNi=[0.01,0.005,0.0,-0.005,-0.015,-0.02,-0.02,-0.015,-0.005,0.0,0.01,0.02,0.025];
const fig2HazeCx=[-1.2,-1.3,-0.5,-1.3,-0.4,-1.1,-0.2,-0.2,-0.4,-0.3,-0.3,-0.2,-0.3,-0.25,-0.4];
const fig2HazeCy=[0.25,0.25,0.30,0.25,0.25,0.20,0.05,0.10,0.10,0.10,0.10,0.0,-0.05,0.05,0.02];
const fig2HazeRx=[0.5,0.45,0.3,0.45,0.4,0.4,0.6,0.55,0.6,0.55,0.55,0.7,0.6,0.65,0.8];
const fig2HazeRy=[0.06,0.07,0.18,0.06,0.28,0.06,0.18,0.30,0.15,0.22,0.35,0.15,0.18,0.22,0.08];
const fig2XTicks=[-1.5,-1.0,-0.5,0.0,0.5];
const fig2XTickLabels=['−1.5','−1.0','−0.5','0.0','0.5'];
const fig2YTicks=[0.6,0.4,0.2,0.0,-0.2];
const fig2YTickLabels=['0.6','0.4','0.2','0.0','−0.2'];
const fig2MgSepX=[-1.0,0.0,0.5];
const fig2MgSepY=[0.27,0.10,0.10];

// ================= FIG 3 DATA =================
const fig3RedX1=[-0.79,-0.73,-0.67,-0.61,-0.55,-0.49,-0.43,-0.37,-0.31,-0.25,-0.18,-0.12];
const fig3RedX5=[-0.79,-0.73,-0.67,-0.61,-0.55,-0.49,-0.43,-0.37,-0.31,-0.25,-0.18];
const fig3RedX6=[-0.79,-0.71,-0.62,-0.54,-0.46,-0.38,-0.29,-0.21];
const fig3Red1=[0.29,0.29,0.285,0.28,0.27,0.26,0.25,0.24,0.225,0.21,0.19,0.16];
const fig3Red2=[0.285,0.285,0.285,0.28,0.27,0.26,0.25,0.24,0.23,0.21,0.185,0.155];
const fig3Red3=[0.28,0.28,0.28,0.275,0.27,0.26,0.25,0.235,0.22,0.20,0.18,0.15];
const fig3Red4=[0.28,0.28,0.275,0.27,0.26,0.25,0.24,0.235,0.225,0.21,0.18,0.15];
const fig3Red5=[0.29,0.285,0.28,0.275,0.265,0.255,0.245,0.235,0.22,0.20,0.18];
const fig3Red6=[0.28,0.28,0.285,0.26,0.245,0.235,0.225,0.20];
const fig3BlueX1=[-0.06,-0.01,0.04,0.09,0.14,0.19,0.24,0.29,0.34,0.39,0.44];
const fig3BlueX2=[-0.25,-0.19,-0.14,-0.08,-0.02,0.04,0.09,0.15,0.21,0.26,0.32,0.38];
const fig3BlueX3=[-0.49,-0.43,-0.37,-0.30,-0.24,-0.18,-0.12,-0.06,0.01,0.07,0.13,0.19,0.26,0.32];
const fig3BlueX4=[-0.56,-0.49,-0.42,-0.36,-0.29,-0.22,-0.16,-0.09,-0.02,0.05,0.11,0.18,0.25];
const fig3BlueX5=[-0.63,-0.57,-0.50,-0.44,-0.38,-0.31,-0.25,-0.18,-0.12,-0.06,0.01,0.07,0.14];
const fig3BlueX6=[-0.70,-0.63,-0.57,-0.50,-0.44,-0.37,-0.31,-0.24,-0.18,-0.11,-0.05,0.02];
const fig3Blue1=[0.01,0.0,-0.01,-0.02,-0.03,-0.035,-0.04,-0.04,-0.035,-0.035,-0.035];
const fig3Blue2=[0.05,0.03,0.02,0.01,0.0,-0.01,-0.02,-0.03,-0.035,-0.035,-0.03,-0.03];
const fig3Blue3=[0.085,0.08,0.07,0.06,0.045,0.03,0.015,0.0,-0.01,-0.015,-0.02,-0.02,-0.02,-0.025];
const fig3Blue4=[0.08,0.075,0.07,0.06,0.04,0.02,0.0,-0.005,-0.01,-0.01,-0.01,-0.01,-0.01];
const fig3Blue5=[0.065,0.065,0.06,0.05,0.035,0.02,0.005,-0.01,-0.02,-0.02,-0.02,-0.02,-0.02];
const fig3Blue6=[0.065,0.065,0.06,0.055,0.05,0.04,0.025,0.01,-0.005,-0.01,-0.01,-0.01];
const fig3HazeCx=[-0.3,-0.3,-0.5,-0.45,-0.4,-0.4];
const fig3HazeCy=[0.12,0.12,0.13,0.12,0.12,0.10];
const fig3HazeRx=[0.6,0.65,0.85,0.7,0.6,0.5];
const fig3HazeRy=[0.12,0.14,0.16,0.14,0.13,0.11];
const fig3NLabels=['N₁ = 20255','N₂ = 48802','N₃ = 171134','N₄ = 100054','N₅ = 39531','N₆ = 13967'];
const fig3RLabels=['3 kpc ≤ R < 5 kpc','5 kpc ≤ R < 7 kpc','7 kpc ≤ R < 9 kpc','9 kpc ≤ R < 11 kpc','11 kpc ≤ R < 13 kpc','13 kpc ≤ R ≤ 15 kpc'];
const fig3CbarLabels=[['2','10','20'],['2','20','30','40'],['2','40','80','120'],['2','30','60','90'],['2','20','40','50'],['2','10','20']];
const fig3CbarPos=[[0,0.4,0.9],[0,0.45,0.62,0.8],[0,0.3,0.6,0.9],[0,0.3,0.6,0.9],[0,0.35,0.72,0.9],[0,0.45,0.9]];
const fig3XTicks=[-1,0];
const fig3XTickLabels=['−1','0'];
const fig3YTicks=[0.4,0.2,0.0];
const fig3YTickLabels=['0.4','0.2','0.0'];

// ================= DRAWING =================
const NS='http://www.w3.org/2000/svg';
const svg=document.getElementById('figs');
function mk(tag,parent,attrs){const e=document.createElementNS(NS,tag);for(const k in attrs)e.setAttribute(k,attrs[k]);parent.appendChild(e);return e;}
function linScale(d0,d1,r0,r1){return v=>r0+(v-d0)/(d1-d0)*(r1-r0);}
function pts(xs,ys,sx,sy){return xs.map((x,i)=>sx(x).toFixed(1)+','+sy(ys[i]).toFixed(1)).join(' ');}
let clipId=0;

// ---------- FIG 1 ----------
(function(){
 const left=1806,right=2120;
 const sx=linScale(-2.1,0.65,left,right);
 const panels=[{top:86,bot:311,ox:fig1TopOutlineX,oy:fig1TopOutlineY,n:'N = 1095480',lab:'MWM DR19 sample',cb:fig1TopCbarLabels,name:'fig1-top-panel'},
               {top:311,bot:537,ox:fig1BotOutlineX,oy:fig1BotOutlineY,n:'N = 393743',lab:'quality disk sample',cb:fig1BotCbarLabels,name:'fig1-bottom-panel'}];
 panels.forEach((p,pi)=>{
  const sy=linScale(-0.30,0.62,p.bot,p.top);
  const g=mk('g',svg,{});
  
  
  clipId++;
  const cp=mk('clipPath',svg,{id:'c'+clipId});
  mk('rect',cp,{x:left,y:p.top,width:right-left,height:p.bot-p.top});
  const inner=mk('g',g,{'clip-path':'url(#c'+clipId+')'});
  const halo=mk('polygon',inner,{points:pts(p.ox,p.oy,sx,sy),fill:'#b9a7c7',stroke:'#c9bdd3','stroke-width':10,opacity:0.5,filter:'url(#blur3)'});
  
  
  const poly=mk('polygon',inner,{points:pts(p.ox,p.oy,sx,sy),fill:'#440154'});
  
  
  const blob=mk('polyline',inner,{points:pts(fig1BlobX,fig1BlobY,sx,sy),fill:'none',stroke:'#3b528b','stroke-width':14,'stroke-linecap':'round',opacity:0.8,filter:'url(#blur5)'});
  
  
  const band=mk('polyline',inner,{points:pts(fig1BandX,fig1BandY,sx,sy),fill:'none',stroke:'#21918c','stroke-width':14,'stroke-linecap':'round',filter:'url(#blur3)'});
  
  
  const band2=mk('polyline',inner,{points:pts(fig1BandX.slice(2),fig1BandY.slice(2),sx,sy),fill:'none',stroke:'#8fd744','stroke-width':7,'stroke-linecap':'round',filter:'url(#blur1)'});
  
  
  const band3=mk('polyline',inner,{points:pts(fig1BandX.slice(3,6),fig1BandY.slice(3,6),sx,sy),fill:'none',stroke:'#fde725','stroke-width':4,'stroke-linecap':'round'});
  
  
  const hl=mk('line',inner,{x1:left,x2:right,y1:sy(0),y2:sy(0),stroke:'#ddd','stroke-width':1,'stroke-dasharray':'4,3'});
  
  
  const vl=mk('line',inner,{x1:sx(0),x2:sx(0),y1:p.top,y2:p.bot,stroke:'#ddd','stroke-width':1,'stroke-dasharray':'4,3'});
  
  
  const frame=mk('rect',g,{x:left,y:p.top,width:right-left,height:p.bot-p.top,fill:'none',stroke:'#222','stroke-width':1});
  
  
  fig1YTicks.forEach((t,i)=>{
   const y=sy(t);
   const tk=mk('line',g,{x1:left,x2:left+6,y1:y,y2:y,stroke:'#222'});
   
   
   const tk2=mk('line',g,{x1:right-6,x2:right,y1:y,y2:y,stroke:'#222'});
   
   
   const tl=mk('text',g,{x:left-3,y:y+5,'text-anchor':'end','font-family':'Liberation Sans, sans-serif','font-size':14,fill:'#111'});
   tl.textContent=fig1YTickLabels[i];
   
   
  });
  for(let v=-2.0;v<=0.61;v+=0.1){
   const x=sx(v);
   const mt=mk('line',g,{x1:x,x2:x,y1:p.bot-3,y2:p.bot,stroke:'#222'});
   
   
  }
  fig1XTicks.forEach(t=>{
   const tk=mk('line',g,{x1:sx(t),x2:sx(t),y1:p.bot-7,y2:p.bot,stroke:'#222'});
   
   
  });
  const yl=mk('text',g,{x:1758,y:(p.top+p.bot)/2,'text-anchor':'middle','font-family':'Liberation Sans, sans-serif','font-size':14,fill:'#111',transform:'rotate(-90 1758 '+((p.top+p.bot)/2)+')'});
  yl.textContent='[α/M]';
  
  
  const nt=mk('text',g,{x:left+14,y:p.top+18,'font-family':'Liberation Sans, sans-serif','font-size':14,fill:'#111'});
  nt.textContent=p.n;
  
  
  const lt=mk('text',g,{x:left+14,y:p.top+42,'font-family':'Liberation Sans, sans-serif','font-size':14,fill:'#111'});
  lt.textContent=p.lab;
  
  
  const cb=mk('rect',g,{x:1995,y:p.top+1,width:125,height:11,fill:'url(#viridis)',stroke:'#222','stroke-width':0.6});
  
  
  p.cb.forEach((l,i)=>{
   const x=1995+i*(125/3.4)+ (i?0:1);
   const ct=mk('text',g,{x:x,y:p.top+26,'text-anchor':'middle','font-family':'Liberation Sans, sans-serif','font-size':11,fill:'#111'});
   ct.textContent=l;
   
   
  });
  const cn=mk('text',g,{x:2046,y:p.top+38,'text-anchor':'middle','font-family':'Liberation Sans, sans-serif','font-size':11,'font-style':'italic',fill:'#111'});
  cn.textContent='N.';
  
  
 });
 fig1XTicks.forEach((t,i)=>{
  const tl=mk('text',svg,{x:sx(t),y:556,'text-anchor':'middle','font-family':'Liberation Sans, sans-serif','font-size':15,fill:'#111'});
  tl.textContent=fig1XTickLabels[i];
  
  
 });
 const xt=mk('text',svg,{x:1963,y:574,'text-anchor':'middle','font-family':'Liberation Sans, sans-serif','font-size':14,fill:'#111'});
 xt.textContent='[M/H]';
 
 
})();

// ---------- shared panel drawer ----------
function drawCurve(g,xs,ys,sx,sy,color,face,name){
 const ln=mk('polyline',g,{points:pts(xs,ys,sx,sy),fill:'none',stroke:color,'stroke-width':1.3});
 
 
 xs.forEach((x,i)=>{
  const r=mk('rect',g,{x:(sx(x)-2.2).toFixed(1),y:(sy(ys[i])-2.2).toFixed(1),width:4.4,height:4.4,fill:face,stroke:'#222','stroke-width':0.5});
  
  
 });
}
function drawCloud(g,rx,ry,bx,by,hz,sx,sy,sxScale,syScale){
 const h=mk('ellipse',g,{cx:sx(hz[0]),cy:sy(hz[1]),rx:hz[2]*sxScale,ry:hz[3]*syScale,fill:'#cdbcdb',opacity:0.85,filter:'url(#blur8)'});
 
 
 const s1=mk('polyline',g,{points:pts(rx,ry,sx,sy),fill:'none',stroke:'#c9b8d8','stroke-width':34,'stroke-linecap':'round','stroke-linejoin':'round',opacity:0.95,filter:'url(#blur5)'});
 
 
 const s2=mk('polyline',g,{points:pts(bx,by,sx,sy),fill:'none',stroke:'#c4b9d8','stroke-width':40,'stroke-linecap':'round','stroke-linejoin':'round',opacity:0.95,filter:'url(#blur5)'});
 
 
 const s3=mk('polyline',g,{points:pts(bx,by,sx,sy),fill:'none',stroke:'#b3dfc3','stroke-width':10,'stroke-linecap':'round',opacity:0.85,filter:'url(#blur3)'});
 
 
}

// ---------- FIG 2 ----------
(function(){
 const redSeries=[redAlpha,redMg,redO,redSi,redS,redCa,redTi,redNa,redAl,redK,redV,redCr,redMn,redCo,redNi];
 const blueSeries=[blueAlpha,blueMg,blueO,blueSi,blueS,blueCa,blueTi,blueNa,blueAl,blueK,blueV,blueCr,blueMn,blueCo,blueNi];
 const colL=[2672,2890,3108], W=218;
 const rowT=[86,260,433,608,781], H=173.5;
 fig2Elements.forEach((el,k)=>{
  const c=k%3, r=Math.floor(k/3);
  const L=colL[c], T=rowT[r], R=L+W, B=T+H;
  const sx=linScale(-1.74,0.66,L,R), sy=linScale(-0.32,0.62,B,T);
  const g=mk('g',svg,{});
  
  
  clipId++;
  const cp=mk('clipPath',svg,{id:'c'+clipId});
  mk('rect',cp,{x:L,y:T,width:W,height:H});
  const inner=mk('g',g,{'clip-path':'url(#c'+clipId+')'});
  drawCloud(inner,fig2RedX,redSeries[k],fig2BlueX,blueSeries[k],[fig2HazeCx[k],fig2HazeCy[k],fig2HazeRx[k],fig2HazeRy[k]],sx,sy,W/2.4,H/0.94);
  const hl=mk('line',inner,{x1:L,x2:R,y1:sy(0),y2:sy(0),stroke:'#bbb','stroke-width':0.8,'stroke-dasharray':'4,3'});
  
  
  const vl=mk('line',inner,{x1:sx(0),x2:sx(0),y1:T,y2:B,stroke:'#bbb','stroke-width':0.8,'stroke-dasharray':'4,3'});
  
  
  if(el==='Mg'){
   const sep=mk('polyline',inner,{points:pts(fig2MgSepX,fig2MgSepY,sx,sy),fill:'none',stroke:'#000','stroke-width':1.8});
   
   
   [[-1.0,0.62,0.27],[-0.6,0.2,-0.32],[0.0,0.62,0.1],[0.5,0.1,-0.32]].forEach(d=>{
    const dl=mk('line',inner,{x1:sx(d[0]),x2:sx(d[0]),y1:sy(d[1]),y2:sy(d[2]),stroke:'#222','stroke-width':0.9,'stroke-dasharray':'4,2'});
    
    
   });
  }
  drawCurve(inner,fig2RedX,redSeries[k],sx,sy,'#c0202a','#a51c1c','fig2-high-mg');
  drawCurve(inner,fig2BlueX,blueSeries[k],sx,sy,'#1a35c8','#10209a','fig2-low-mg');
  const fr=mk('rect',g,{x:L,y:T,width:W,height:H,fill:'none',stroke:'#333','stroke-width':1});
  
  
  fig2YTicks.forEach((t,i)=>{
   const y=sy(t);
   const a=mk('line',g,{x1:L,x2:L+9,y1:y,y2:y,stroke:'#333'});
   
   
   const b=mk('line',g,{x1:R-9,x2:R,y1:y,y2:y,stroke:'#333'});
   
   
   if(c===0){
    const tl=mk('text',g,{x:L-4,y:y+4.5,'text-anchor':'end','font-family':'DejaVu Sans, sans-serif','font-size':11.5,fill:'#111'});
    tl.textContent=fig2YTickLabels[i];
    
    
   }
  });
  fig2XTicks.forEach((t,i)=>{
   const x=sx(t);
   const a=mk('line',g,{x1:x,x2:x,y1:B-9,y2:B,stroke:'#333'});
   
   
   const b=mk('line',g,{x1:x,x2:x,y1:T,y2:T+9,stroke:'#333'});
   
   
   if(r===4){
    const tl=mk('text',g,{x:x,y:B+14,'text-anchor':'middle','font-family':'DejaVu Sans, sans-serif','font-size':11.5,fill:'#111'});
    tl.textContent=fig2XTickLabels[i];
    
    
   }
  });
  const et=mk('text',g,{x:L+23,y:T+24,'font-family':'DejaVu Sans, sans-serif','font-size':13,fill:'#111','font-style':el==='α'?'italic':'normal'});
  et.textContent=el;
  
  
  if(c===0){
   const yt=mk('text',g,{x:2638,y:T+H/2,'text-anchor':'middle','font-family':'DejaVu Sans, sans-serif','font-size':11,fill:'#111',transform:'rotate(-90 2638 '+(T+H/2)+')'});
   yt.textContent='[X/M]';
   
   
  }
  if(r===4){
   const xt=mk('text',g,{x:L+W*0.42,y:B+27,'text-anchor':'middle','font-family':'DejaVu Sans, sans-serif','font-size':11.5,fill:'#111'});
   xt.textContent='[M/H]';
   
   
  }
 });
})();

// ---------- FIG 3 ----------
(function(){
 const redXs=[fig3RedX1,fig3RedX1,fig3RedX1,fig3RedX1,fig3RedX5,fig3RedX6];
 const reds=[fig3Red1,fig3Red2,fig3Red3,fig3Red4,fig3Red5,fig3Red6];
 const blueXs=[fig3BlueX1,fig3BlueX2,fig3BlueX3,fig3BlueX4,fig3BlueX5,fig3BlueX6];
 const blues=[fig3Blue1,fig3Blue2,fig3Blue3,fig3Blue4,fig3Blue5,fig3Blue6];
 const L=3521,R=3782,W=R-L,H=132;
 const tops=[86,219,351,483,615,747];
 const sx=linScale(-1.5,0.65,L,R);
 tops.forEach((T,k)=>{
  const B=T+H;
  const sy=linScale(-0.18,0.44,B,T);
  const g=mk('g',svg,{});
  
  
  clipId++;
  const cp=mk('clipPath',svg,{id:'c'+clipId});
  mk('rect',cp,{x:L,y:T,width:W,height:H});
  const inner=mk('g',g,{'clip-path':'url(#c'+clipId+')'});
  drawCloud(inner,redXs[k],reds[k],blueXs[k],blues[k],[fig3HazeCx[k],fig3HazeCy[k],fig3HazeRx[k],fig3HazeRy[k]],sx,sy,W/2.15,H/0.62);
  const hl=mk('line',inner,{x1:L,x2:R,y1:sy(0),y2:sy(0),stroke:'#bbb','stroke-width':0.8,'stroke-dasharray':'4,3'});
  
  
  const vl=mk('line',inner,{x1:sx(0),x2:sx(0),y1:T,y2:B,stroke:'#bbb','stroke-width':0.8,'stroke-dasharray':'4,3'});
  
  
  drawCurve(inner,redXs[k],reds[k],sx,sy,'#c0202a','#a51c1c','fig3-high-mg');
  drawCurve(inner,blueXs[k],blues[k],sx,sy,'#1a35c8','#10209a','fig3-low-mg');
  const fr=mk('rect',g,{x:L,y:T,width:W,height:H,fill:'none',stroke:'#333','stroke-width':1});
  
  
  for(let v=-1.4;v<=0.61;v+=0.1){
   const x=sx(v);
   const a=mk('line',g,{x1:x,x2:x,y1:B-3,y2:B,stroke:'#333','stroke-width':0.8});
   
   
   const b=mk('line',g,{x1:x,x2:x,y1:T,y2:T+3,stroke:'#333','stroke-width':0.8});
   
   
  }
  for(let v=-0.15;v<=0.41;v+=0.05){
   const y=sy(v);
   const a=mk('line',g,{x1:L,x2:L+3,y1:y,y2:y,stroke:'#333','stroke-width':0.8});
   
   
   const b=mk('line',g,{x1:R-3,x2:R,y1:y,y2:y,stroke:'#333','stroke-width':0.8});
   
   
  }
  fig3YTicks.forEach((t,i)=>{
   const y=sy(t);
   const a=mk('line',g,{x1:L,x2:L+6,y1:y,y2:y,stroke:'#333'});
   
   
   const b=mk('line',g,{x1:R-6,x2:R,y1:y,y2:y,stroke:'#333'});
   
   
   const tl=mk('text',g,{x:L-4,y:y+4.5,'text-anchor':'end','font-family':'DejaVu Sans, sans-serif','font-size':11.5,fill:'#111'});
   tl.textContent=fig3YTickLabels[i];
   
   
  });
  fig3XTicks.forEach(t=>{
   const x=sx(t);
   const a=mk('line',g,{x1:x,x2:x,y1:B-6,y2:B,stroke:'#333'});
   
   
  });
  const yt=mk('text',g,{x:3493,y:T+H/2-8,'text-anchor':'middle','font-family':'DejaVu Sans, sans-serif','font-size':11,fill:'#111',transform:'rotate(-90 3493 '+(T+H/2-8)+')'});
  yt.textContent='[Mg/M]';
  
  
  const nt=mk('text',g,{x:L+24,y:B-29,'font-family':'DejaVu Sans, sans-serif','font-size':9.5,fill:'#111','font-style':'italic'});
  nt.textContent=fig3NLabels[k];
  
  
  const rt=mk('text',g,{x:L+24,y:B-14,'font-family':'DejaVu Sans, sans-serif','font-size':9.5,fill:'#111','font-style':'italic'});
  rt.textContent=fig3RLabels[k];
  
  
  const cb=mk('rect',g,{x:3678,y:T+1,width:104,height:6,fill:'url(#viridisPale)',stroke:'#666','stroke-width':0.5});
  
  
  fig3CbarLabels[k].forEach((l,i)=>{
   const ct=mk('text',g,{x:3680+fig3CbarPos[k][i]*100,y:T+17,'text-anchor':'middle','font-family':'DejaVu Sans, sans-serif','font-size':8.5,fill:'#111'});
   ct.textContent=l;
   
   
  });
  const cn=mk('text',g,{x:3729,y:T+27,'text-anchor':'middle','font-family':'DejaVu Sans, sans-serif','font-size':8.5,'font-style':'italic',fill:'#111'});
  cn.textContent='N.';
  
  
  if(k===5){
   fig3XTicks.forEach((t,i)=>{
    const tl=mk('text',g,{x:sx(t),y:B+13,'text-anchor':'middle','font-family':'DejaVu Sans, sans-serif','font-size':11.5,fill:'#111'});
    tl.textContent=fig3XTickLabels[i];
    
    
   });
   const xt=mk('text',g,{x:3653,y:B+27,'text-anchor':'middle','font-family':'DejaVu Sans, sans-serif','font-size':11.5,fill:'#111'});
   xt.textContent='[M/H]';
   
   
   const lg=mk('rect',g,{x:L+5,y:T+3,width:84,height:38,fill:'#fff',stroke:'#ccc','stroke-width':0.8,rx:2});
   
   
   [['high-Mg','#a51c1c'],['low-Mg','#10209a']].forEach((e,i)=>{
    const m=mk('rect',g,{x:L+17,y:T+12+i*14,width:4,height:4,fill:e[1]});
    
    
    const lt=mk('text',g,{x:L+38,y:T+18+i*14,'font-family':'DejaVu Sans, sans-serif','font-size':10,fill:'#111'});
    lt.textContent=e[0];
    
    
   });
  }
 });
})();
</script>
</body></html>
